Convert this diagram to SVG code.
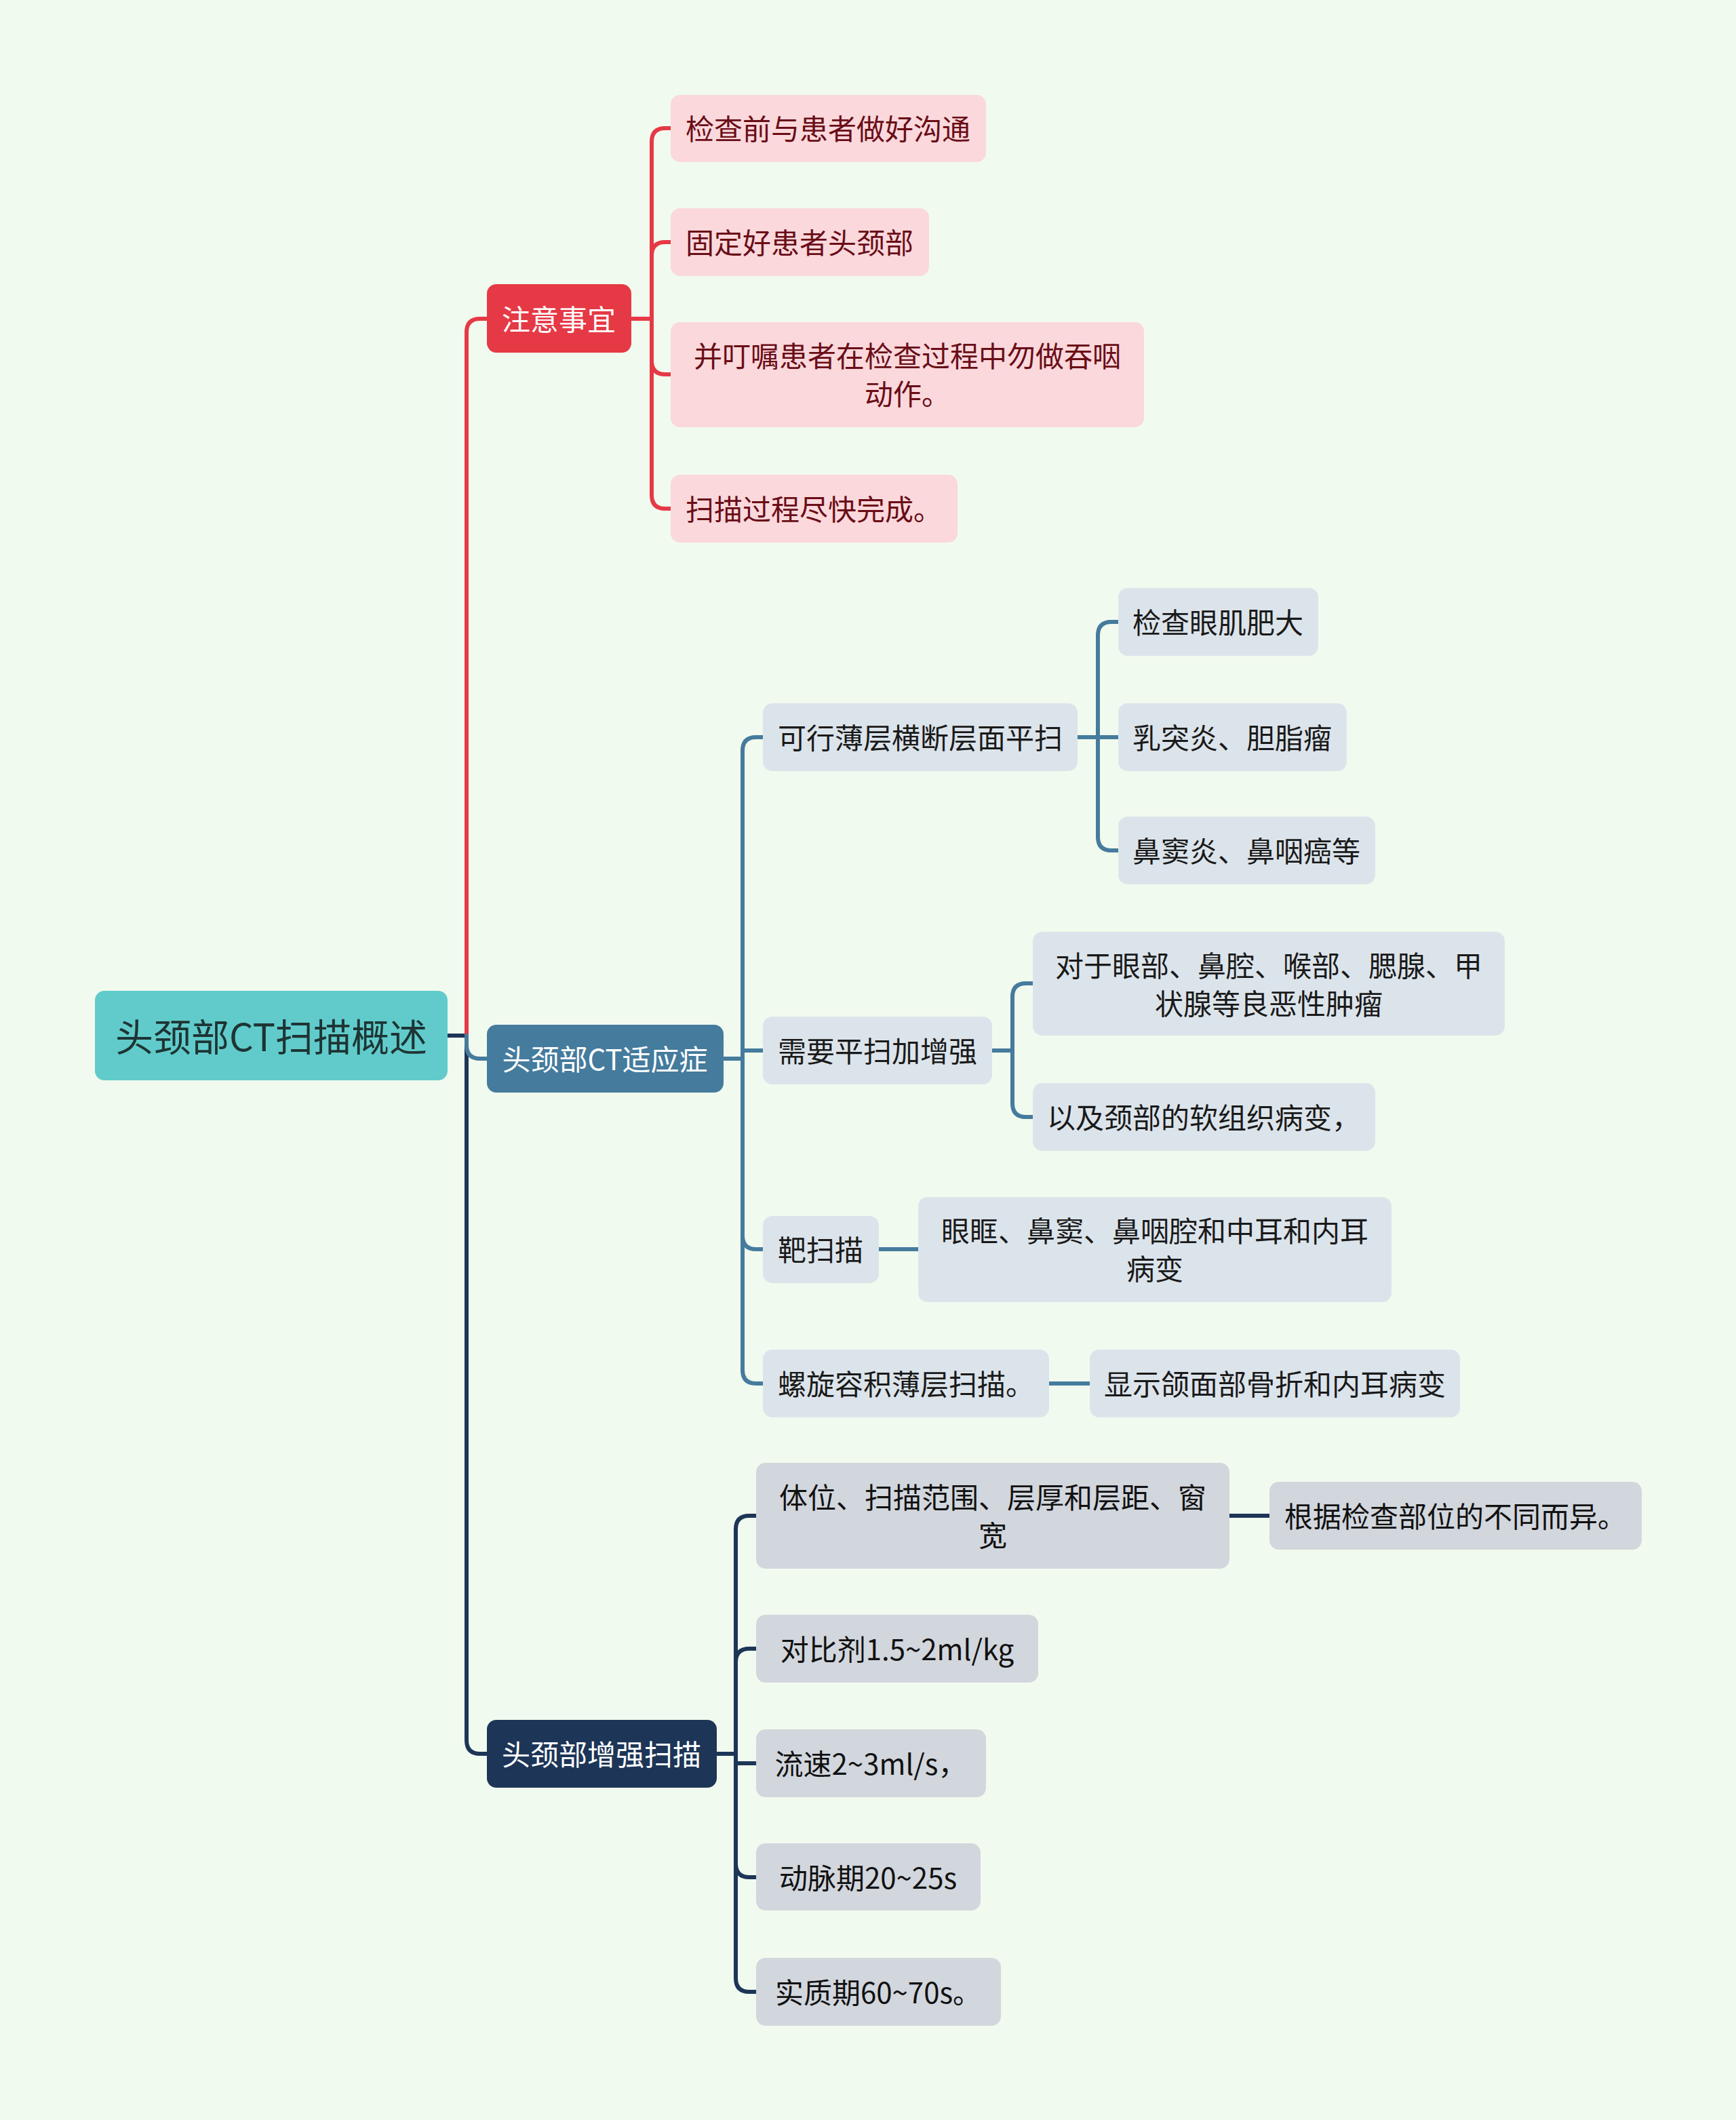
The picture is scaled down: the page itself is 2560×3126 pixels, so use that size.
<svg xmlns="http://www.w3.org/2000/svg" width="2560" height="3126" viewBox="0 0 2560 3126">
<style>
text{font-family:"Noto Sans CJK SC","Noto Sans",sans-serif;dominant-baseline:central;text-anchor:middle}
.root rect{fill:#61CBCB}
.root text{font-size:56px;fill:#1E3434}
.b text{font-size:42px;fill:#FFFFFF}
.red rect{fill:#E63946}
.blue rect{fill:#457B9D}
.navy rect{fill:#1D3557}
.lp rect{fill:#FAD8DC}
.lp text{font-size:42px;fill:#6A0D17}
.lb rect{fill:#DCE4EB}
.lb text{font-size:42px;fill:#1A1A1A}
.lg rect{fill:#D2D6DD}
.lg text{font-size:42px;fill:#111111}
.c path{fill:none;stroke-width:6;stroke-linecap:round}
.cr path{stroke:#E63946}
.cb path{stroke:#457B9D}
.cn path{stroke:#1D3557}
</style>
<rect width="2560" height="3126" fill="#F1FAEE"/>
<g id="connectors" class="c">
<g class="cn"><path d="M660,1527 H688"/><path d="M688,1527 V2566 Q688,2586 708,2586 H718"/></g>
<g class="cr"><path d="M688,1527 V490 Q688,470 708,470 H718"/></g>
<g class="cb"><path d="M688,1527 V1541 Q688,1561 708,1561 H718"/></g>
<g class="cr">
<path d="M931,470 H961"/>
<path d="M961,470 V209 Q961,189 981,189 H989"/>
<path d="M961,470 V377 Q961,357 981,357 H989"/>
<path d="M961,470 V532 Q961,552 981,552 H989"/>
<path d="M961,470 V730 Q961,750 981,750 H989"/>
</g>
<g class="cb">
<path d="M1067,1561 H1095"/>
<path d="M1095,1561 V1107 Q1095,1087 1115,1087 H1125"/>
<path d="M1095,1561 V1549 H1125"/>
<path d="M1095,1561 V1822 Q1095,1842 1115,1842 H1125"/>
<path d="M1095,1561 V2020 Q1095,2040 1115,2040 H1125"/>
<path d="M1589,1087 H1649"/>
<path d="M1619,1087 V937 Q1619,917 1639,917 H1649"/>
<path d="M1619,1087 V1234 Q1619,1254 1639,1254 H1649"/>
<path d="M1463,1549 H1493"/>
<path d="M1493,1549 V1470 Q1493,1450 1513,1450 H1523"/>
<path d="M1493,1549 V1627 Q1493,1647 1513,1647 H1523"/>
<path d="M1296,1842 H1354"/>
<path d="M1547,2040 H1607"/>
</g>
<g class="cn">
<path d="M1057,2586 H1085"/>
<path d="M1085,2586 V2255 Q1085,2235 1105,2235 H1115"/>
<path d="M1085,2586 V2451 Q1085,2431 1105,2431 H1115"/>
<path d="M1085,2586 V2600 H1115"/>
<path d="M1085,2586 V2748 Q1085,2768 1105,2768 H1115"/>
<path d="M1085,2586 V2917 Q1085,2937 1105,2937 H1115"/>
<path d="M1813,2235 H1872"/>
</g>
</g>
<g id="root" class="root"><rect x="140" y="1461" width="520" height="132" rx="14"/><text x="400" y="1525">头颈部CT扫描概述</text></g>
<g id="b1" class="b red"><rect x="718" y="419" width="213" height="101" rx="14"/><text x="824" y="468">注意事宜</text></g>
<g id="b2" class="b blue"><rect x="718" y="1511" width="349" height="100" rx="14"/><text x="892" y="1559">头颈部CT适应症</text></g>
<g id="b3" class="b navy"><rect x="718" y="2536" width="339" height="100" rx="14"/><text x="887" y="2584">头颈部增强扫描</text></g>
<g id="r1" class="lp"><rect x="989" y="140" width="465" height="99" rx="14"/><text x="1221" y="187">检查前与患者做好沟通</text></g>
<g id="r2" class="lp"><rect x="989" y="307" width="381" height="100" rx="14"/><text x="1179" y="355">固定好患者头颈部</text></g>
<g id="r3" class="lp"><rect x="989" y="475" width="698" height="155" rx="14"/><text x="1338" y="522">并叮嘱患者在检查过程中勿做吞咽</text><text x="1338" y="578">动作。</text></g>
<g id="r4" class="lp"><rect x="989" y="700" width="423" height="100" rx="14"/><text x="1200" y="748">扫描过程尽快完成。</text></g>
<g id="s1" class="lb"><rect x="1125" y="1037" width="464" height="100" rx="14"/><text x="1357" y="1085">可行薄层横断层面平扫</text></g>
<g id="s1a" class="lb"><rect x="1649" y="867" width="295" height="100" rx="14"/><text x="1796" y="915">检查眼肌肥大</text></g>
<g id="s1b" class="lb"><rect x="1649" y="1037" width="337" height="100" rx="14"/><text x="1817" y="1085">乳突炎、胆脂瘤</text></g>
<g id="s1c" class="lb"><rect x="1649" y="1204" width="379" height="100" rx="14"/><text x="1838" y="1252">鼻窦炎、鼻咽癌等</text></g>
<g id="s2" class="lb"><rect x="1125" y="1499" width="338" height="100" rx="14"/><text x="1294" y="1547">需要平扫加增强</text></g>
<g id="s2a" class="lb"><rect x="1523" y="1374" width="696" height="153" rx="14"/><text x="1871" y="1421">对于眼部、鼻腔、喉部、腮腺、甲</text><text x="1871" y="1477">状腺等良恶性肿瘤</text></g>
<g id="s2b" class="lb"><rect x="1523" y="1597" width="505" height="100" rx="14"/><text x="1775" y="1645">以及颈部的软组织病变，</text></g>
<g id="s3" class="lb"><rect x="1125" y="1793" width="171" height="99" rx="14"/><text x="1210" y="1840">靶扫描</text></g>
<g id="s3a" class="lb"><rect x="1354" y="1765" width="698" height="155" rx="14"/><text x="1703" y="1812">眼眶、鼻窦、鼻咽腔和中耳和内耳</text><text x="1703" y="1868">病变</text></g>
<g id="s4" class="lb"><rect x="1125" y="1990" width="422" height="100" rx="14"/><text x="1336" y="2038">螺旋容积薄层扫描。</text></g>
<g id="s4a" class="lb"><rect x="1607" y="1990" width="546" height="100" rx="14"/><text x="1880" y="2038">显示颌面部骨折和内耳病变</text></g>
<g id="n1" class="lg"><rect x="1115" y="2157" width="698" height="156" rx="14"/><text x="1464" y="2205">体位、扫描范围、层厚和层距、窗</text><text x="1464" y="2261">宽</text></g>
<g id="n1a" class="lg"><rect x="1872" y="2185" width="549" height="100" rx="14"/><text x="2146" y="2233">根据检查部位的不同而异。</text></g>
<g id="n2" class="lg"><rect x="1115" y="2381" width="416" height="100" rx="14"/><text x="1323" y="2429">对比剂1.5~2ml/kg</text></g>
<g id="n3" class="lg"><rect x="1115" y="2550" width="339" height="100" rx="14"/><text x="1284" y="2598">流速2~3ml/s，</text></g>
<g id="n4" class="lg"><rect x="1115" y="2718" width="331" height="99" rx="14"/><text x="1280" y="2766">动脉期20~25s</text></g>
<g id="n5" class="lg"><rect x="1115" y="2887" width="361" height="100" rx="14"/><text x="1295" y="2935">实质期60~70s。</text></g>
</svg>
